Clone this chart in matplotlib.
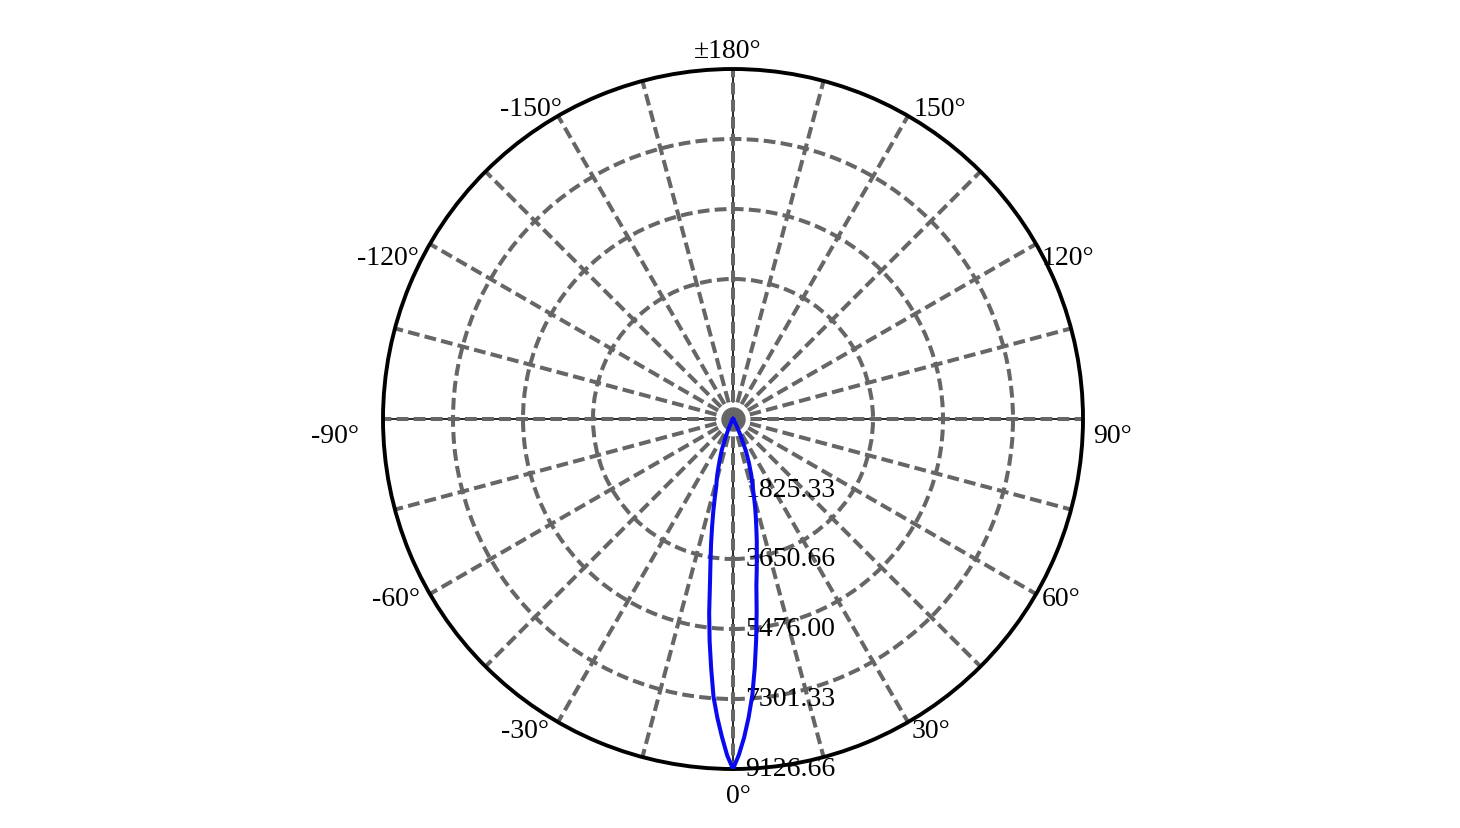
import numpy as np
import matplotlib
matplotlib.use("Agg")
import matplotlib.pyplot as plt

plt.rcParams['font.family'] = ['Liberation Serif', 'DejaVu Serif']
plt.rcParams['lines.scale_dashes'] = False

# luminous intensity (cd) vs. angle
angles_deg = [0, 1, 2, 3, 4, 5, 6, 7, 8, 9, 10, 11, 12, 13, 14, 15, 16,
              18, 20, 22, 25, 30, 35, 40, 50, 60, 70, 80, 90, 180]
# right half of the curve (positive angles)
right_cd = [9126.66, 8760, 8310, 7790, 7220, 6510, 5780, 5060, 4380, 3960,
            3570, 3250, 2930, 2650, 2390, 2130, 1880, 1550, 1210, 890, 430,
            130, 35, 10, 0, 0, 0, 0, 0, 0]
# left half of the curve (negative angles)
left_cd = [9126.66, 8770, 8290, 7800, 7270, 6530, 5830, 5100, 4310, 3750,
           3290, 2855, 2480, 2115, 1800, 1640, 1470, 1120, 850, 530, 250,
           80, 20, 5, 0, 0, 0, 0, 0, 0]

r_max = 9126.66
r_ticks = [1825.33, 3650.66, 5476.00, 7301.33, 9126.66]
r_circles = [3650.66, 5476.00, 7301.33]
theta_label_deg = [0, 30, 60, 90, 120, 150, 180, -150, -120, -90, -60, -30]
theta_labels = ['0°', '30°', '60°', '90°', '120°', '150°', '±180°',
                '-150°', '-120°', '-90°', '-60°', '-30°']
# label offsets from the rim, in points
label_offsets = [(3.6, -19), (16.6, -5.8), (18, -3.6), (21.6, -12.2),
                 (23, -9.4), (23, 5), (-3.6, 13.4), (-19.4, 5),
                 (-30.2, -9.4), (-34.6, -12.2), (-24.5, -3.6), (-23.8, -5.8)]

fig = plt.figure(figsize=(14.6, 8.29), dpi=100)
ax = fig.add_axes([0.26233, 0.07117, 0.47945, 0.84439], projection='polar')
ax.set_theta_zero_location('S')
ax.set_theta_direction(1)
ax.set_ylim(0, r_max)

ax.set_thetagrids(np.arange(0, 360, 15), labels=[])
ax.set_rgrids(r_circles, labels=[])
ax.grid(True, color='#666666', linewidth=2.9, linestyle=(0, (8.5, 3.8)))
ax.tick_params(length=0)
ax.spines['polar'].set_linewidth(2.8)
ax.spines['polar'].set_color('black')

# thin solid axis lines under the dashed spokes
for t in [0, 90, 180, 270]:
    ax.plot([np.radians(t), np.radians(t)], [0, r_max], color='black',
            linewidth=1.2, zorder=1)

# centre dot
ax.plot([0], [0], 'o', markersize=21, markerfacecolor='#666666',
        markeredgecolor='white', markeredgewidth=3.4, zorder=3, clip_on=False)

for rv in r_ticks:
    ax.annotate(f'{rv:.2f}', xy=(0, rv), xytext=(9, 0),
                textcoords='offset points', ha='left', va='center',
                fontsize=20, zorder=3.5, annotation_clip=False)

ang = np.array(angles_deg, dtype=float)
theta = np.radians(np.concatenate([-ang[::-1], ang]))
r = np.concatenate([np.array(left_cd)[::-1], np.array(right_cd)])
ax.plot(theta, r, color='#0a0af0', linewidth=2.9, zorder=4)

for deg, lab, off in zip(theta_label_deg, theta_labels, label_offsets):
    ax.annotate(lab, xy=(np.radians(deg), r_max), xytext=off,
                textcoords='offset points', ha='center', va='center',
                fontsize=20, annotation_clip=False)

fig.savefig('out.png', dpi=100, facecolor='white')
